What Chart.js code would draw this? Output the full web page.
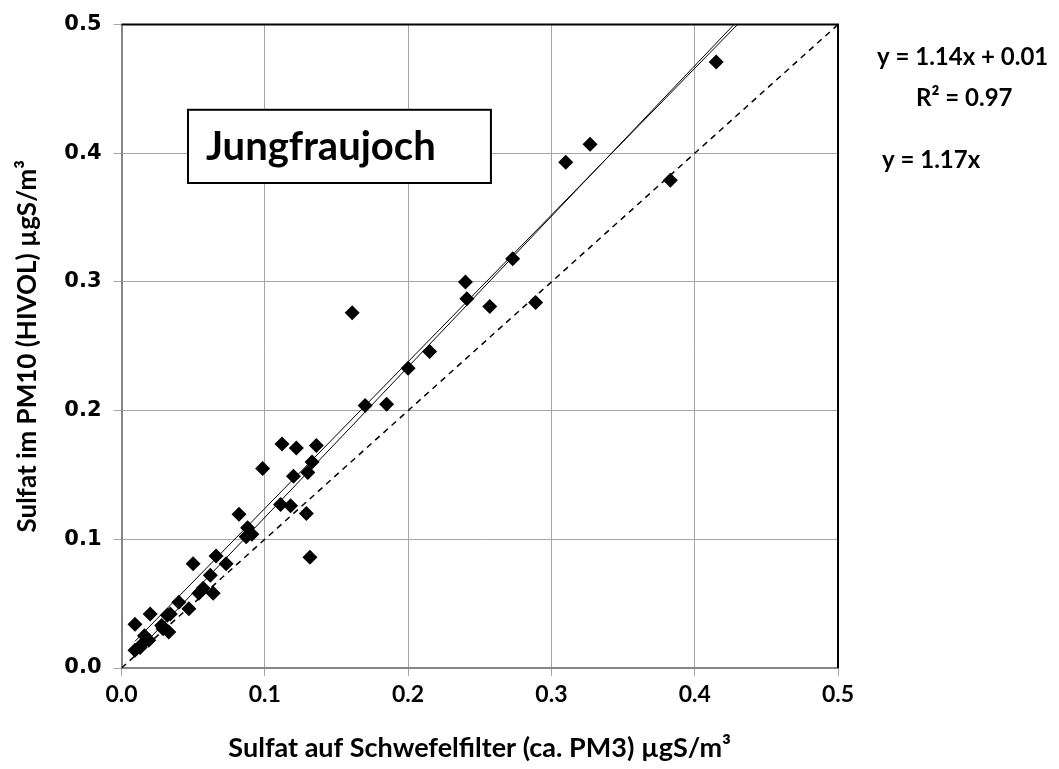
<!DOCTYPE html>
<html>
<head>
<meta charset="utf-8">
<script src="https://cdn.jsdelivr.net/npm/chart.js@4.4.1/dist/chart.umd.min.js"></script>
<style>
  body { margin: 0; background: #fff; }
</style>
</head>
<body>
<canvas id="myChart" width="1059" height="769"></canvas>
<script>
// Sulfat auf Schwefelfilter (x) vs. Sulfat im PM10 HIVOL (y), µgS/m3
const filterVals = [0.415, 0.383, 0.310, 0.327, 0.273, 0.240, 0.241, 0.257, 0.289, 0.215,
    0.200, 0.170, 0.185, 0.161, 0.112, 0.122, 0.136, 0.0985, 0.133, 0.130,
    0.120, 0.111, 0.118, 0.129, 0.082, 0.088, 0.087, 0.091, 0.1315, 0.050,
    0.066, 0.073, 0.062, 0.057, 0.054, 0.064, 0.040, 0.047, 0.034, 0.032,
    0.020, 0.0094, 0.029, 0.033, 0.028, 0.016, 0.019, 0.014, 0.0094, 0.013];
const hivolVals = [0.471, 0.379, 0.393, 0.407, 0.318, 0.300, 0.287, 0.281, 0.284, 0.246,
    0.233, 0.204, 0.205, 0.276, 0.174, 0.171, 0.173, 0.155, 0.160, 0.152,
    0.149, 0.127, 0.126, 0.120, 0.1195, 0.109, 0.102, 0.104, 0.086, 0.081,
    0.087, 0.081, 0.072, 0.062, 0.058, 0.058, 0.051, 0.046, 0.042, 0.041,
    0.042, 0.034, 0.0305, 0.028, 0.033, 0.025, 0.0215, 0.018, 0.0138, 0.016];
const tickVals = [0.0, 0.1, 0.2, 0.3, 0.4, 0.5];

// trendlines as printed in the chart
const fitSlope = 1.14, fitIntercept = 0.01;
const originSlope = 1.17;
const trendX = [0.0094, 0.45];
const identityX = [0, 0.5];

const eqLines = ['y = 1.14x + 0.01', 'R² = 0.97', 'y = 1.17x'];
const stationName = 'Jungfraujoch';

const points = filterVals.map((x, i) => ({ x: x, y: hivolVals[i] }));
const fitLine = trendX.map(x => ({ x: x, y: fitSlope * x + fitIntercept }));
const originLine = trendX.map(x => ({ x: x, y: originSlope * x }));
const identityLine = identityX.map(x => ({ x: x, y: x }));

const labelFont = "'Lato', 'Liberation Sans', sans-serif";

const extras = {
    id: 'extras',
    beforeDatasetsDraw(chart) {
        const c = chart.ctx, a = chart.chartArea;
        c.save();
        c.strokeStyle = '#000';
        c.lineWidth = 2;
        c.beginPath();
        c.moveTo(a.left, a.top);
        c.lineTo(a.right, a.top);
        c.lineTo(a.right, a.bottom);
        c.stroke();
        c.restore();
    },
    afterDatasetsDraw(chart) {
        const c = chart.ctx, a = chart.chartArea;
        const xs = chart.scales.x, ys = chart.scales.y;
        // station box
        const bx0 = xs.getPixelForValue(0.0464), bx1 = xs.getPixelForValue(0.2578);
        const by0 = ys.getPixelForValue(0.4338), by1 = ys.getPixelForValue(0.3769);
        c.save();
        c.fillStyle = '#fff';
        c.fillRect(bx0, by0, bx1 - bx0, by1 - by0);
        c.strokeStyle = '#000';
        c.lineWidth = 2;
        c.strokeRect(bx0, by0, bx1 - bx0, by1 - by0);
        c.fillStyle = '#000';
        c.font = 'bold 40px ' + labelFont;
        c.textBaseline = 'middle';
        c.textAlign = 'left';
        c.fillText(stationName, bx0 + 18, (by0 + by1) / 2 + 1);

        // equations right of plot
        c.font = 'bold 24px ' + labelFont;
        c.fillText(eqLines[0], a.right + 39, 57);
        c.fillText(eqLines[1], a.right + 78, 98);
        c.fillText(eqLines[2], a.right + 44, 160);
        c.restore();
    }
};

const myChart = new Chart(document.getElementById('myChart').getContext('2d'), {
    type: 'scatter',
    data: {
        datasets: [{
            label: 'Messwerte',
            data: points,
            pointStyle: 'rectRot',
            radius: 7.5,
            backgroundColor: '#000',
            borderColor: '#000',
            borderWidth: 0,
            order: 1
        }, {
            type: 'line',
            label: 'Regression',
            data: fitLine,
            borderColor: '#000',
            borderWidth: 1,
            pointRadius: 0,
            fill: false,
            order: 0
        }, {
            type: 'line',
            label: 'Ursprung',
            data: originLine,
            borderColor: '#000',
            borderWidth: 1,
            pointRadius: 0,
            fill: false,
            order: 0
        }, {
            type: 'line',
            label: '1:1',
            data: identityLine,
            borderColor: '#000',
            borderWidth: 1.5,
            borderDash: [6, 5],
            pointRadius: 0,
            fill: false,
            order: 0
        }]
    },
    options: {
        responsive: false,
        animation: false,
        layout: { padding: { top: 19, right: 221, left: 0, bottom: 0 } },
        plugins: {
            legend: { display: false },
            tooltip: { enabled: false }
        },
        scales: {
            x: {
                type: 'linear',
                min: 0,
                max: 0.5,
                afterFit(scale) { scale.height = 101; },
                afterBuildTicks(scale) { scale.ticks = tickVals.map(v => ({ value: v })); },
                ticks: {
                    color: '#000',
                    padding: 5,
                    font: { family: labelFont, weight: 'bold', size: 23 },
                    callback: v => v.toFixed(1)
                },
                grid: { color: '#a6a6a6', lineWidth: 1, tickLength: 8 },
                border: { color: '#868686', width: 2 },
                title: {
                    display: true,
                    text: 'Sulfat auf Schwefelfilter (ca. PM3) µgS/m³',
                    color: '#000',
                    font: { family: labelFont, weight: 'bold', size: 27 },
                    padding: { top: 0, bottom: 5 }
                }
            },
            y: {
                type: 'linear',
                min: 0,
                max: 0.5,
                afterFit(scale) { scale.width = 121.5; },
                afterBuildTicks(scale) { scale.ticks = tickVals.map(v => ({ value: v })); },
                ticks: {
                    color: '#000',
                    padding: 12,
                    font: { family: "'DejaVu Sans', sans-serif", weight: 'bold', size: 21 },
                    callback: v => v.toFixed(1)
                },
                grid: { color: '#a6a6a6', lineWidth: 1, tickLength: 8 },
                border: { color: '#868686', width: 2 },
                title: {
                    display: true,
                    text: 'Sulfat im PM10 (HIVOL) µgS/m³',
                    color: '#000',
                    font: { family: labelFont, weight: 'bold', size: 26 },
                    padding: { top: 12, bottom: 0 }
                }
            }
        }
    },
    plugins: [extras]
});
</script>
</body>
</html>
